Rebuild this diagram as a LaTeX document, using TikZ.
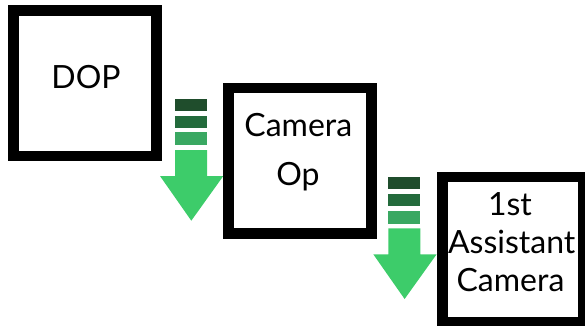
\documentclass[tikz,border=0pt]{standalone}
\usepackage{fontspec}
\setmainfont{Lato}
\definecolor{barA}{HTML}{1F4D2C}
\definecolor{barB}{HTML}{236B3C}
\definecolor{barC}{HTML}{3AA862}
\definecolor{arrowG}{HTML}{3DCC6A}
\tikzset{
  rolebox/.style={draw=black, fill=white, line width=10.5pt, inner sep=0pt, minimum width=143pt, minimum height=145.5pt},
  roletext/.style={anchor=base, inner sep=0pt, font=\fontsize{32}{38}\selectfont},
  pics/downarrow/.style={code={
    \fill[barA] (0,0) rectangle (32,11.7);
    \fill[barB] (0,16.7) rectangle (32,28.7);
    \fill[barC] (0,33.3) rectangle (32,46.3);
    \fill[arrowG] (0,51) -- (32,51) -- (32,77) -- (48.3,77) -- (16.3,121.7) -- (-15,77) -- (0,77) -- cycle;
  }}
}
\begin{document}
\begin{tikzpicture}[x=1pt,y=-1pt]
\useasboundingbox (0,0) rectangle (585,325);
\begin{scope}
\clip (0,0) rectangle (585,325);
\pic at (175,99) {downarrow};
\pic at (388.3,177.3) {downarrow};
\node[rolebox] (dop) at (84.75,83) {};
\node[rolebox] (camop) at (300,160.5) {};
\node[rolebox, minimum width=141.4pt] (ac) at (513,249.5) {};
\end{scope}
\node[roletext] (dopt) at (86,88) {DOP};
\node[roletext] (camopa) at (298.3,136.7) {Camera};
\node[roletext] (camopb) at (298,185.5) {Op};
\node[roletext] (aca) at (510,215) {1st};
\node[roletext] (acb) at (511.7,253.5) {Assistant};
\node[roletext] (acc) at (510.5,291.7) {Camera};
\end{tikzpicture}
\end{document}
